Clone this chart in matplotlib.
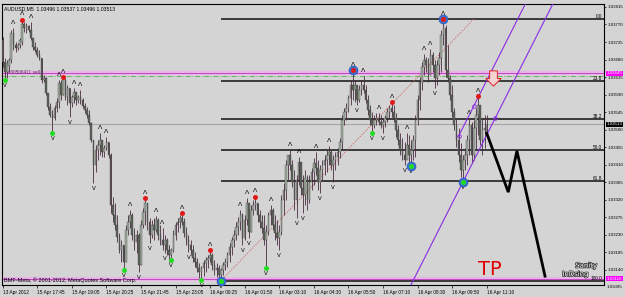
import numpy as np
import matplotlib
matplotlib.use('Agg')
import matplotlib.pyplot as plt
from matplotlib.path import Path
from matplotlib.transforms import offset_copy, blended_transform_factory
import matplotlib.patheffects as pe

# ---------------- data (prices in points above 1.03000) ----------------
BASE = 1.03
PT = 1e-5

bar_high = [738,684,679,684,756,761,725,722,735,782,
            776,774,769,776,735,725,712,704,684,640,
            635,594,568,550,563,581,627,627,635,632,
            614,607,589,607,596,589,602,581,568,558,
            550,519,473,460,473,491,473,460,481,468,
            440,327,311,280,234,216,203,255,280,293,
            285,247,242,234,267,298,324,311,273,267,
            273,278,273,255,247,229,221,203,195,242,
            262,273,280,285,273,249,229,216,203,185,
            170,157,149,165,172,177,190,183,165,157,
            152,144,159,170,185,208,224,242,262,275,
            293,285,280,324,311,306,319,327,311,293,
            280,280,255,288,306,298,280,267,255,332,
            363,422,435,447,422,396,383,429,417,383,
            396,383,383,401,427,442,422,409,422,435,
            447,458,447,435,442,452,478,537,555,568,
            589,627,653,627,614,614,627,638,614,589,
            563,545,537,542,542,537,530,537,555,563,
            571,563,542,512,491,478,468,491,486,473,
            486,537,589,635,674,694,686,684,707,699,
            679,679,699,756,784,769,717,640,614,555,
            530,504,465,435,452,486,530,519,524,555,
            586,545,530,537,537]
bar_low = [661,627,632,648,671,704,699,704,710,717,
           751,748,751,730,704,699,686,679,620,622,
           589,550,532,491,524,545,555,576,589,576,
           563,532,558,568,563,568,566,555,542,530,
           512,468,363,391,422,435,429,429,447,427,
           285,262,242,211,183,159,139,159,229,247,
           216,190,183,134,152,247,255,242,208,221,
           216,236,216,203,190,183,177,159,165,185,
           216,236,247,255,224,203,185,177,159,147,
           134,118,113,123,134,144,159,139,126,121,
           116,111,126,139,147,159,177,198,216,229,
           242,203,216,255,221,236,280,293,262,247,
           234,203,144,229,255,242,216,203,190,229,
           280,319,370,396,352,293,273,357,332,285,
           306,293,311,345,357,383,345,337,370,383,
           391,409,396,365,396,409,427,447,512,524,
           545,563,576,571,563,571,589,594,568,537,
           512,491,504,512,512,504,491,506,519,530,
           532,519,481,460,435,422,409,427,417,406,
           422,429,512,550,602,640,648,622,640,648,
           607,614,640,648,717,635,622,576,532,499,
           455,417,378,365,396,409,435,414,422,447,
           486,460,435,452,496]
bar_open = [730,674,648,663,679,748,717,710,717,725,
            771,761,766,756,735,712,704,692,684,627,
            632,594,558,537,530,555,571,620,589,627,
            584,607,568,584,596,576,584,576,560,550,
            537,517,473,409,447,460,473,442,452,468,
            435,306,280,255,224,190,203,159,242,262,
            280,229,211,229,152,255,288,311,262,229,
            255,242,267,229,216,203,216,190,177,190,
            229,255,262,273,262,234,216,203,190,170,
            159,144,134,144,157,165,170,177,152,139,
            144,126,139,152,159,177,198,216,229,249,
            262,280,221,267,311,236,293,306,311,280,
            262,247,216,236,280,293,255,234,221,236,
            319,345,409,435,409,365,319,370,417,350,
            332,375,319,365,391,414,401,365,396,409,
            422,435,442,409,422,429,442,468,524,545,
            555,581,614,602,614,576,602,614,602,576,
            550,524,512,524,530,519,512,519,530,545,
            555,545,530,499,473,447,435,422,460,435,
            447,473,524,576,622,661,679,666,640,692,
            666,632,666,684,743,761,653,632,589,545,
            512,473,435,396,422,435,473,512,435,504,
            537,563,473,499,496]
bar_close = [674,648,671,679,748,717,710,717,730,771,
             761,766,756,735,712,704,692,684,627,632,
             594,558,537,530,555,571,620,589,627,584,
             607,568,584,596,576,584,576,560,550,537,
             517,473,409,447,460,473,442,452,468,435,
             306,280,255,224,190,203,159,242,262,280,
             229,211,229,152,255,288,311,262,229,255,
             242,267,229,216,203,216,190,177,190,229,
             255,262,273,262,234,216,203,190,170,159,
             144,134,144,157,165,170,177,152,139,144,
             126,139,152,159,177,198,216,229,249,262,
             280,221,267,311,236,293,306,311,280,262,
             247,216,236,280,293,255,234,221,236,319,
             345,409,435,409,365,319,370,417,350,332,
             375,319,365,391,414,401,365,396,409,422,
             435,442,409,422,429,442,468,524,545,555,
             581,614,602,614,576,602,614,602,576,550,
             524,512,524,530,519,512,519,530,545,555,
             545,530,499,473,447,435,422,460,435,447,
             473,524,576,622,661,679,666,640,692,666,
             632,666,684,743,761,653,632,589,545,512,
             473,435,396,422,435,473,512,435,504,537,
             563,473,499,504,513]

fractal_up = [5, 9, 13, 26, 28, 33, 36, 45, 48, 59, 66, 71, 74, 83, 96, 110, 113, 117,
              124, 133, 137, 145, 151, 162, 167, 174, 180, 187, 195, 198, 204, 216, 220]
fractal_down = [1, 23, 31, 42, 56, 63, 68, 75, 78, 86, 92, 101, 111, 114, 122, 128, 136,
                139, 147, 153, 164, 171, 176, 186, 189, 200, 213]
red_dots = [9, 28, 66, 83, 96, 117, 180, 220]
blue_red_dots = [162, 204]
green_dots = [1, 23, 56, 78, 92, 122, 171]
blue_green_dots = [101, 189, 213]

fib_low_bar, fib_low = 101, 1.03111
fib_high = 1.03784
fib_levels = [0.0, 23.6, 38.2, 50.0, 61.8, 100.0]
fib_trend_bars = [101, 218]
fib_trend_prices = [1.03111, 1.03784]

channel_b = [(213, 1.03365), (228, 1.03530)]
channel_a = [(211, 1.03483), (218, 1.03560)]

zigzag_bars = [224, 234, 238, 251]
zigzag_prices = [1.03491, 1.03339, 1.03445, 1.03123]

sell_price = 1.03637
magenta_top = 1.03645
magenta_bottom = 1.03116
bid_price = 1.03513
arrow_bar, arrow_price = 227, 1.03632
tp_bar, tp_price = 225.5, 1.03139

price_ticks = ["1.03815", "1.03770", "1.03725", "1.03680", "1.03635", "1.03590",
               "1.03545", "1.03500", "1.03455", "1.03410", "1.03365", "1.03320",
               "1.03275", "1.03230", "1.03185", "1.03140"]
bottom_label = "1.03095"
time_tick_bars = [0, 16, 32, 48, 64, 80, 96, 112, 128, 144, 160, 176, 192, 208, 224]
time_labels = ["13 Apr 2012", "15 Apr 17:45", "15 Apr 19:05", "15 Apr 20:25",
               "15 Apr 21:45", "15 Apr 23:05", "16 Apr 00:25", "16 Apr 01:50",
               "16 Apr 03:10", "16 Apr 04:30", "16 Apr 05:50", "16 Apr 07:10",
               "16 Apr 08:30", "16 Apr 09:50", "16 Apr 11:10"]

# ---------------- figure ----------------
BG = '#d4d4d4'
fig = plt.figure(figsize=(6.25, 2.97), dpi=100, facecolor=BG)
ax = fig.add_axes([2/625, 1 - 285/297, 602/625, 281/297])
ax.set_facecolor(BG)
FONT = 'Liberation Sans'
AXFS = 3.2

H = BASE + np.array(bar_high) * PT
L = BASE + np.array(bar_low) * PT
O = BASE + np.array(bar_open) * PT
C = BASE + np.array(bar_close) * PT
idx = np.arange(len(H))

ymin, ymax = 1.031003, 1.038227
ax.set_xlim(-0.3, 278.3)
ax.set_ylim(ymin, ymax)

# horizontal lines
ax.axhline(bid_price, color='#a6a6a6', lw=0.8, zorder=1)
for p in (magenta_top, magenta_bottom):
    ax.axhline(p, color='#e8b4e8', lw=3.0, zorder=1)
    ax.axhline(p, color='#c048c0', lw=0.7, zorder=1.1)
ax.axhline(sell_price, color='#4fae4f', lw=0.6, ls=(0, (6, 2, 1, 2)), zorder=1.2)

# fib levels
xmax = ax.get_xlim()[1]
ybt = blended_transform_factory(ax.transAxes, ax.transData)
for lv in fib_levels:
    p = fib_high - (fib_high - fib_low) * lv / 100.0
    ax.plot([fib_low_bar, xmax], [p, p], color='#111111', lw=1.1, zorder=2,
            solid_capstyle='butt')
    ax.text(0.997, p, f"{lv:.1f}", transform=ybt,
            ha='right', va='bottom', fontsize=3.4, family=FONT, color='black', zorder=6)
ax.plot(fib_trend_bars, fib_trend_prices, color='#d06060', lw=0.6, ls=(0, (1.5, 1.5)), zorder=2)

# candles
up = C >= O
ax.vlines(idx, L, H, color='#4a2c40', lw=0.6, zorder=3)
body_bottom = np.minimum(O, C)
body_h = np.maximum(np.abs(C - O), 0.6 * PT)
ax.bar(idx[up], body_h[up], bottom=body_bottom[up], width=0.75, color='#a3ae9f',
       edgecolor='#3a3a3a', linewidth=0.25, zorder=4)
ax.bar(idx[~up], body_h[~up], bottom=body_bottom[~up], width=0.75, color='#5c635a',
       edgecolor='#3a3a3a', linewidth=0.25, zorder=4)

# fractal arrows
up_tr = offset_copy(ax.transData, fig=fig, y=4.2, units='points')
dn_tr = offset_copy(ax.transData, fig=fig, y=-4.2, units='points')
for i in fractal_up:
    ax.text(i, H[i], "Λ", transform=up_tr, ha='center', va='center', fontsize=4.5,
            family='DejaVu Sans', color='black', zorder=6)
for i in fractal_down:
    ax.text(i, L[i], "V", transform=dn_tr, ha='center', va='center', fontsize=4.0,
            family='DejaVu Sans', color='black', zorder=6)

# dots
ax.plot(blue_red_dots, H[blue_red_dots], 'o', ms=6.5, color='#3a70d0', mec='#2050b0', mew=0.4, zorder=7)
ax.plot(blue_green_dots, L[blue_green_dots], 'o', ms=6.5, color='#3a70d0', mec='#2050b0', mew=0.4, zorder=7)
ax.plot(red_dots + blue_red_dots, H[red_dots + blue_red_dots], 'o', ms=3.6, color='#e01818', mew=0, zorder=8)
ax.plot(green_dots + blue_green_dots, L[green_dots + blue_green_dots], 'o', ms=3.6, color='#22dd22', mew=0, zorder=8)

# channel lines
(bx0, by0), (bx1, by1) = channel_b
ax.axline((bx0, by0), (bx1, by1), color='#8a2be2', lw=0.8, zorder=5)
(ax0, ay0), (ax1, ay1) = channel_a
slope = (ay1 - ay0) / (ax1 - ax0)
x_top = ax0 + (ymax + 0.001 - ay0) / slope
ax.plot([ax0, x_top], [ay0, ymax + 0.001], color='#8a2be2', lw=0.8, zorder=5)
ax.plot([ax0, ax1, bx1], [ay0, ay1, by1], 'o', ms=2.6, mfc='none', mec='#8a2be2', mew=0.6, zorder=5)

# zigzag projection
ax.plot(zigzag_bars, zigzag_prices, color='black', lw=2.0, zorder=6, solid_joinstyle='miter')

# red outline arrow
arrow_path = Path([(-0.28, 0.55), (0.28, 0.55), (0.28, 0.0), (0.55, 0.0), (0.0, -0.55),
                   (-0.55, 0.0), (-0.28, 0.0), (-0.28, 0.55)], closed=True)
ax.plot([arrow_bar], [arrow_price], marker=arrow_path, ms=11, mfc='#f4d2d2', mec='#e02020', mew=0.7, zorder=7)

# texts
ax.text(tp_bar, tp_price, "TP", ha='center', va='center', fontsize=14, color='#e00000',
        family='DejaVu Sans', zorder=7)
ax.text(0.004, 0.993, "AUDUSD,M5  1.03496 1.03537 1.03496 1.03513", transform=ax.transAxes,
        ha='left', va='top', fontsize=3.7, family=FONT, color='black', zorder=9)
ax.text(0.003, 0.006, "BMF-Meta, \u00a9 2001-2012, MetaQuotes Software Corp.", transform=ax.transAxes,
        ha='left', va='bottom', fontsize=4.0, family=FONT, color='black', zorder=9)
ax.text(0.01, sell_price + 0.00002, "#00506411 sell", transform=ybt,
        ha='left', va='bottom', fontsize=3.4, family=FONT, color='#603060', zorder=9)
wm = [pe.withStroke(linewidth=1.0, foreground='#333333')]
ax.text(265, 1.03150, "Sanity", fontsize=5.0, color='white', family='DejaVu Sans',
        ha='left', va='center', path_effects=wm, zorder=9)
ax.text(259, 1.03128, "InDsing", fontsize=5.0, color='white', family='DejaVu Sans',
        ha='left', va='center', path_effects=wm, zorder=9)

# axes / ticks
for s in ax.spines.values():
    s.set_color('black')
    s.set_linewidth(0.8)
ax.yaxis.tick_right()
tick_vals = [float(t) for t in price_ticks]
ax.set_yticks(tick_vals)
ax.set_yticklabels(price_ticks, fontsize=AXFS, family=FONT)
ax.tick_params(axis='y', length=1.5, width=0.5, pad=1.0, colors='black')
ax.text(1.0 + 3/602, float(bottom_label), bottom_label, transform=ybt,
        ha='left', va='center', fontsize=AXFS, family=FONT, clip_on=False)
ax.set_xticks(time_tick_bars)
ax.set_xticklabels(time_labels, fontsize=3.4, family=FONT)
for lbl in ax.get_xticklabels():
    lbl.set_ha('left')
ax.tick_params(axis='x', length=2.5, width=0.5, pad=0.8, colors='black')

for p, txt, fc in ((magenta_top, "1.03645", '#ff00ff'), (bid_price, "1.03513", 'black'),
                   (magenta_bottom, "1.03116", '#ff00ff')):
    ax.text(1.0 + 2.5/602, p, txt, transform=ybt, ha='left', va='center', fontsize=AXFS,
            family=FONT, color='white', clip_on=False, zorder=10,
            bbox=dict(boxstyle='square,pad=0.12', fc=fc, ec=fc, lw=0))

fig.savefig('out.png', dpi=100, facecolor=BG)
